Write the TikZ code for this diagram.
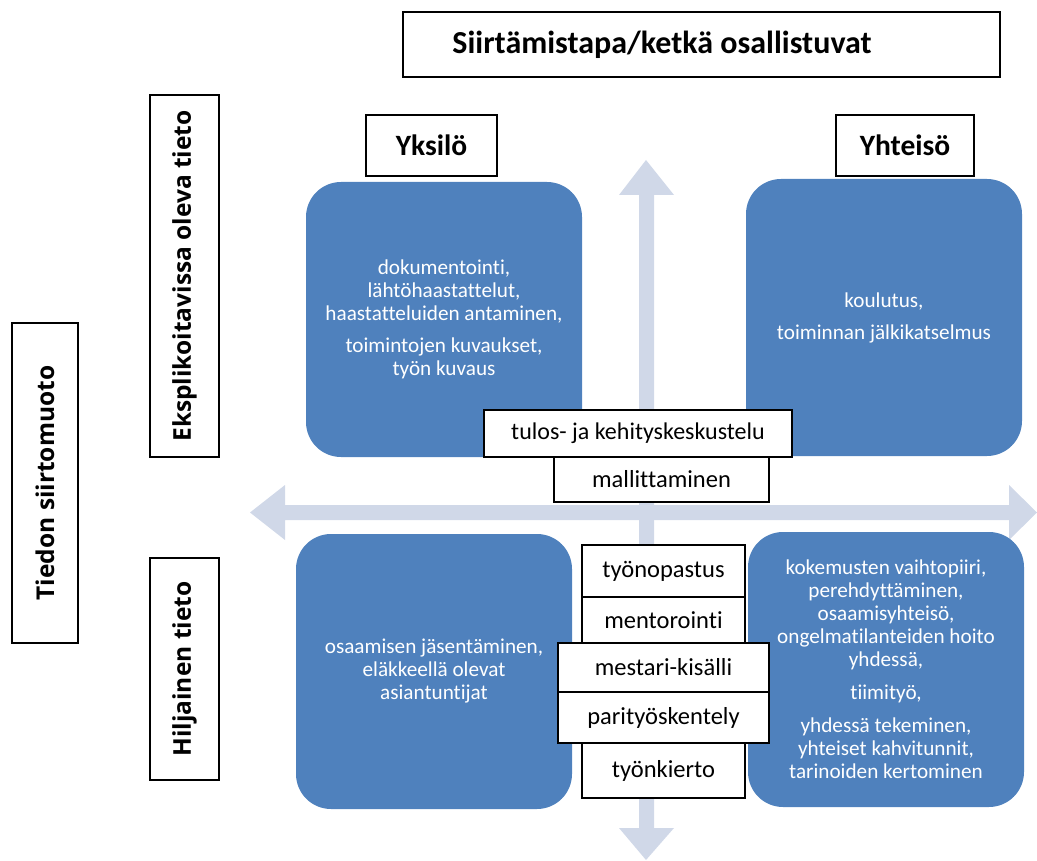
\documentclass[tikz,border=0pt]{standalone}
\usepackage{fontspec}
\setmainfont{Carlito}[Ligatures={NoCommon}]
\newfontfamily\openfont{Open Sans}[Ligatures={NoCommon}]
\definecolor{qblue}{HTML}{4F81BD}
\definecolor{qarrow}{HTML}{D0D8E8}
\tikzset{
  lbl/.style={draw=black, line width=1.5pt, fill=white, inner sep=0pt, font=\fontsize{29.5}{34}\selectfont\bfseries},
  vlbl/.style={draw=black, line width=1.5pt, fill=white, inner sep=0pt, rotate=90, font=\openfont\bfseries\fontsize{24.5}{28}\selectfont},
  bluebox/.style={fill=qblue, rounded corners=35pt, inner sep=0pt, text=white, align=center, font=\fontsize{21.2}{23}\selectfont},
  wbox/.style={draw=black, line width=2pt, fill=white, inner sep=0pt, font=\fontsize{24.5}{28}\selectfont},
  arrowshape/.style={fill=qarrow, draw=none}
}
\begin{document}
\begin{tikzpicture}[x=1pt,y=-1pt]
\useasboundingbox (0,0) rectangle (1037,861);
% block arrows
\fill[arrowshape] (646,160) -- (674,195) -- (654,195) -- (654,828) -- (674,828) -- (646,860)
  -- (619,828) -- (639,828) -- (639,195) -- (619,195) -- cycle;
\fill[arrowshape] (250,512.5) -- (285,485) -- (285,505) -- (1009,505) -- (1009,485) -- (1037,512.5)
  -- (1009,540) -- (1009,520) -- (285,520) -- (285,540) -- cycle;
% header labels
\node[lbl, minimum width=597pt, minimum height=65pt] (title) at (701.5,44.5) {};
\node[inner sep=0pt, anchor=west, font=\fontsize{32}{36}\selectfont\bfseries] (titletext) at ([xshift=50pt]title.west) {Siirtämistapa/ketkä osallistuvat};
\node[lbl, minimum width=131pt, minimum height=61pt] (yksilo) at (431.5,145.5) {Yksilö};
\node[lbl, minimum width=138pt, minimum height=61pt] (yhteiso) at (905,145.5) {Yhteisö};
\node[vlbl, minimum width=320pt, minimum height=66pt] (tiedon) at (45,483) {Tiedon siirtomuoto};
\node[vlbl, minimum width=362pt, minimum height=69pt] (ekspl) at (184.5,276) {Eksplikoitavissa oleva tieto};
\node[vlbl, minimum width=222pt, minimum height=69pt] (hilj) at (184.5,669) {Hiljainen tieto};
% blue quadrant boxes
\node[bluebox, minimum width=276pt, minimum height=275pt] (tl) at (444,319.5)
  {dokumentointi,\\ lähtöhaastattelut,\\ haastatteluiden antaminen,\\[9pt] toimintojen kuvaukset,\\ työn kuvaus};
\node[bluebox, minimum width=276pt, minimum height=277pt] (tr) at (884,317.5)
  {koulutus,\\[9pt] toiminnan jälkikatselmus};
\node[bluebox, minimum width=276pt, minimum height=275pt] (bl) at (434,671.5)
  {osaamisen jäsentäminen,\\ eläkkeellä olevat\\ asiantuntijat};
\node[bluebox, minimum width=276pt, minimum height=275pt] (br) at (886,669.5)
  {kokemusten vaihtopiiri,\\ perehdyttäminen,\\ osaamisyhteisö,\\ ongelmatilanteiden hoito\\ yhdessä,\\[10pt] tiimityö,\\[10pt] yhdessä tekeminen,\\ yhteiset kahvitunnit,\\ tarinoiden kertominen};
% white method boxes
\node[wbox, minimum width=308pt, minimum height=47pt, font=\fontsize{24}{28}\selectfont] (tulos) at (638,433.5) {tulos- ja kehityskeskustelu};
\node[wbox, minimum width=215pt, minimum height=45pt] (malli) at (661.5,479.5) {mallittaminen};
\node[wbox, minimum width=163pt, minimum height=52pt] (opastus) at (663.5,571) {työnopastus};
\node[wbox, minimum width=163pt, minimum height=46pt] (mentor) at (663.5,620) {mentorointi};
\node[wbox, minimum width=163pt, minimum height=55pt] (kierto) at (663.5,770.5) {työnkierto};
\node[wbox, minimum width=211pt, minimum height=49pt] (mestari) at (663.5,667.5) {mestari-kisälli};
\node[wbox, minimum width=211pt, minimum height=51pt] (pari) at (663.5,717.5) {parityöskentely};
\end{tikzpicture}
\end{document}
